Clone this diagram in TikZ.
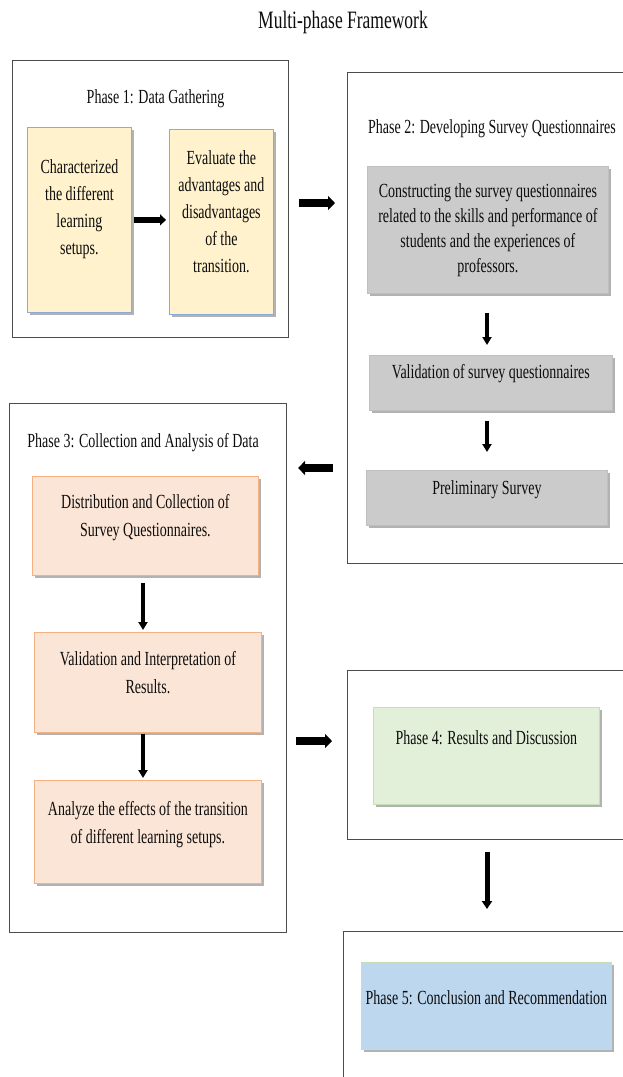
\documentclass[tikz,border=0pt]{standalone}
\usepackage{fontspec}
\setmainfont{Liberation Serif}[FakeStretch=0.7]
\usepackage{xcolor}
\usetikzlibrary{shapes, arrows, arrows.meta, shadows, calc, positioning}

\definecolor{fillyellow}{HTML}{FFF2CC}
\definecolor{lineblue}{HTML}{8EA9DB}
\definecolor{fillpeach}{HTML}{FBE5D6}
\definecolor{lineorange}{HTML}{F4B183}
\definecolor{fillgreen}{HTML}{E2F0D9}
\definecolor{linegreen}{HTML}{C5E0B4}
\definecolor{fillblue}{HTML}{BDD7EE}
\definecolor{fillgray}{HTML}{CBCBCB}

\begin{document}
\begin{tikzpicture}[x=1pt, y=-1pt,
        txt/.style={inner sep=0pt, align=center, text=black!95, font=\fontsize{20}{27}\selectfont},
        phase/.style={draw=black!70, line width=1.1pt, anchor=north west, inner sep=0pt},
        shade box/.style={anchor=north west, inner sep=0pt, line width=0.8pt,
            drop shadow={shadow xshift=2.5pt, shadow yshift=-2.5pt, opacity=0.3, fill=black}},
        yellowbox/.style={shade box, draw=lineblue, fill=fillyellow},
        graybox/.style={shade box, draw=black!25, fill=fillgray},
        peachbox/.style={shade box, draw=lineorange, fill=fillpeach},
        greenbox/.style={shade box, draw=linegreen, fill=fillgreen},
        bluebox/.style={shade box, draw=linegreen, fill=fillblue},
        bigarrow/.style={line width=8pt, -{Triangle[length=7pt, width=14pt]}},
        midarrow/.style={line width=6.5pt, -{Triangle[length=6pt, width=11pt]}},
        thinarrow/.style={line width=4pt, -{Triangle[length=8pt, width=9pt]}}]

        \useasboundingbox (0,0) rectangle (623,1077);
        \clip (0,0) rectangle (623,1077);

        \node[txt, font=\fontsize{25}{29}\selectfont] (title) at (343,22) {Multi-phase Framework};

        % phase 1
        \node[phase, minimum width=276, minimum height=277] (P1) at (12,60) {};
        \node[txt, below=29pt of P1.north, xshift=5pt] (P1t) {Phase 1: Data Gathering};
        \node[yellowbox, minimum width=104, minimum height=185] (a1) at (27,127) {};
        \node[yellowbox, minimum width=104, minimum height=185] (a2) at (169,129) {};
        \node[txt, below=32pt of a1.north] (a1t) {Characterized\\the different\\learning\\setups.};
        \node[txt, below=21pt of a2.north] (a2t) {Evaluate the\\advantages and\\disadvantages\\of the\\transition.};
        \draw[midarrow, shorten <=2pt, shorten >=3pt] (a1.east) -- (a1.east -| a2.west);

        % phase 2
        \node[phase, minimum width=300, minimum height=491] (P2) at (347,72) {};
        \node[txt, below=47pt of P2.north west, anchor=north, xshift=145pt] (P2t) {Phase 2: Developing Survey Questionnaires};
        \node[graybox, minimum width=241, minimum height=127] (g1) at (367,166) {};
        \node[graybox, minimum width=243, minimum height=55] (g2) at (369,355) {};
        \node[graybox, minimum width=241, minimum height=55] (g3) at (366,470) {};
        \node[txt, font=\fontsize{20}{25}\selectfont] (g1t) at (g1.center) {Constructing the survey questionnaires\\related to the skills and performance of\\students and the experiences of\\professors.};
        \node[txt] (g2t) at ($(g2.center)+(0,-9)$) {Validation of survey questionnaires};
        \node[txt] (g3t) at ($(g3.center)+(0,-8)$) {Preliminary Survey};
        \draw[thinarrow, shorten <=19pt, shorten >=10pt] (g1.south -| 487,0) -- (g2.north -| 487,0);
        \draw[thinarrow, shorten <=10pt, shorten >=18pt] (g2.south -| 487,0) -- (g3.north -| 487,0);

        % phase 3
        \node[phase, minimum width=277, minimum height=529] (P3) at (9,403) {};
        \node[txt, below=30pt of P3.north, xshift=-5pt] (P3t) {Phase 3: Collection and Analysis of Data};
        \node[peachbox, minimum width=226, minimum height=99] (c1) at (32,476) {};
        \node[peachbox, minimum width=227, minimum height=100] (c2) at (34,632) {};
        \node[peachbox, minimum width=227, minimum height=103] (c3) at (34,780) {};
        \node[txt, font=\fontsize{20}{28}\selectfont, below=18pt of c1.north] (c1t) {Distribution and Collection of\\Survey Questionnaires.};
        \node[txt, font=\fontsize{20}{28}\selectfont, below=19pt of c2.north] (c2t) {Validation and Interpretation of\\Results.};
        \node[txt, font=\fontsize{20}{28}\selectfont, below=21pt of c3.north] (c3t) {Analyze the effects of the transition\\of different learning setups.};
        \draw[thinarrow, shorten <=7pt, shorten >=2pt] (c1.south -| 143,0) -- (c2.north -| 143,0);
        \draw[thinarrow, shorten <=1pt, shorten >=2pt] (c2.south -| 143,0) -- (c3.north -| 143,0);

        % phase 4
        \node[phase, minimum width=300, minimum height=169] (P4) at (347,670) {};
        \node[greenbox, minimum width=226, minimum height=97] (d1) at (373,707) {};
        \node[txt, below=23pt of d1.north] (d1t) {Phase 4: Results and Discussion};

        % phase 5
        \node[phase, minimum width=304, minimum height=200] (P5) at (343,931) {};
        \node[bluebox, minimum width=250, minimum height=87] (e1) at (361,962) {};
        \node[txt, below=28pt of e1.north] (e1t) {Phase 5: Conclusion and Recommendation};

        % between phases
        \draw[bigarrow, shorten <=10pt, shorten >=12pt] (P1.east |- 0,203) -- (P2.west |- 0,203);
        \draw[bigarrow, shorten <=14pt, shorten >=11pt] (P2.west |- 0,468) -- (P3.east |- 0,468);
        \draw[bigarrow, shorten <=9pt, shorten >=15pt] (P3.east |- 0,741) -- (P4.west |- 0,741);
        \draw[line width=5pt, -{Triangle[length=8pt, width=10pt]}, shorten <=12pt, shorten >=22pt] (P4.south -| 487,0) -- (P5.north -| 487,0);
\end{tikzpicture}
\end{document}
